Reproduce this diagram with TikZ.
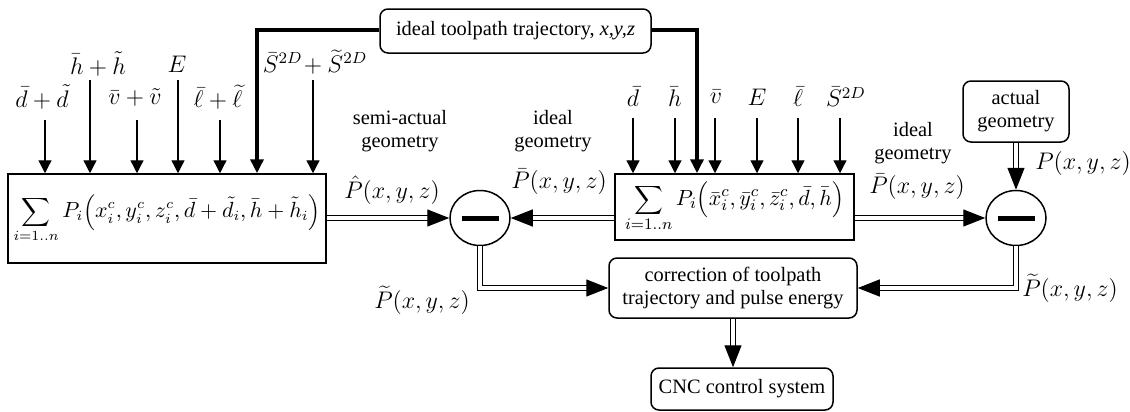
\documentclass[tikz,border=0pt]{standalone}
\usepackage{fontspec}
\setmainfont{Liberation Serif}
\usetikzlibrary{arrows.meta,shapes.geometric,calc}
\begin{document}
\begin{tikzpicture}[x=0.5pt,y=-0.5pt,
  font=\fontsize{10.2}{11.5}\selectfont,
  box/.style={draw,line width=0.75pt,inner sep=0pt,align=center},
  rbox/.style={box,rounded corners=4pt},
  circ/.style={draw,line width=0.75pt,ellipse,inner sep=0pt,minimum width=30pt,minimum height=27.5pt},
  lbl/.style={inner sep=1pt,align=center},
  mlbl/.style={inner sep=1pt,font=\fontsize{11.8}{13}\selectfont},
  arr/.style={line width=0.65pt,-{Triangle[length=6.5pt,width=6.5pt]}},
  dbl/.style={double,double distance=1.6pt,line width=0.6pt,-{Triangle[length=11pt,width=8.5pt]}},
  thk/.style={line width=2pt,-{Triangle[length=7pt,width=6.5pt]}}]
\useasboundingbox (0,0) rectangle (1130,412);

% main boxes
\node[box,minimum width=159pt,minimum height=44.5pt,font=\fontsize{10.6}{12}\selectfont] (lbox) at (167,218.5)
  {$\displaystyle\sum_{i=1..n}P_i\Bigl(x_i^c,y_i^c,z_i^c,\bar d+\tilde d_i,\bar h+\tilde h_i\Bigr)$};
\node[box,minimum width=119.5pt,minimum height=33pt,font=\fontsize{11}{12}\selectfont] (rbox) at (734.5,207)
  {$\displaystyle\sum_{i=1..n}P_i\Bigl(\bar x_i^c,\bar y_i^c,\bar z_i^c,\bar d,\bar h\Bigr)$};
\node[rbox,minimum width=135.5pt,minimum height=22pt] (top) at (515.5,31)
  {ideal toolpath trajectory, \textit{x,y,z}};
\node[rbox,minimum width=53pt,minimum height=30.5pt] (act) at (1016,111.5)
  {actual\\geometry};
\node[rbox,minimum width=124pt,minimum height=30pt] (corr) at (733,288)
  {correction of toolpath\\trajectory and pulse energy};
\node[rbox,minimum width=91pt,minimum height=21pt] (cnc) at (742,389)
  {CNC control system};

% comparators
\node[circ] (c1) at (480,218) {\rule[-1.25pt]{18.5pt}{2.5pt}};
\node[circ] (c2) at (1016,218) {\rule[-1.25pt]{18.5pt}{2.5pt}};

% labels above left box
\node[mlbl] (la) at (42,97) {$\bar d+\tilde d$};
\node[mlbl] (lb) at (98,64) {$\bar h+\tilde h$};
\node[mlbl] (lc) at (135,97) {$\bar v+\tilde v$};
\node[mlbl] (ld) at (177,64) {$E$};
\node[mlbl] (le) at (218,97) {$\bar\ell+\widetilde\ell$};
\node[mlbl] (lf) at (315,62) {$\bar S^{2D}\!+\widetilde S^{2D}$};

\coordinate (ia) at (45,120);
\coordinate (ib) at (90,80);
\coordinate (ic) at (137,120);
\coordinate (id) at (178,80);
\coordinate (ie) at (220,120);
\coordinate (if) at (313,80);
\foreach \p in {ia,ib,ic,id,ie,if}
  \draw[arr] (\p) -- (\p |- lbox.north);

% labels above right box
\node[mlbl] (ra) at (633,97) {$\bar d$};
\node[mlbl] (rb) at (675,97) {$\bar h$};
\node[mlbl] (rc) at (716,97) {$\bar v$};
\node[mlbl] (rd) at (757,97) {$E$};
\node[mlbl] (re) at (798,97) {$\bar\ell$};
\node[mlbl] (rf) at (846,97) {$\bar S^{2D}$};
\coordinate (ja) at (633,118);
\coordinate (jb) at (675,118);
\coordinate (jc) at (715,118);
\coordinate (jd) at (757,118);
\coordinate (je) at (798,118);
\coordinate (jf) at (840,118);
\foreach \p in {ja,jb,jc,jd,je,jf}
  \draw[arr] (\p) -- (\p |- rbox.north);

% thick trajectory lines
\coordinate (tl) at (257,30);
\coordinate (tr) at (697,30);
\draw[thk] (top.west |- tl) -- (tl) -- (tl |- lbox.north);
\draw[thk] (top.east |- tr) -- (tr) -- (tr |- rbox.north);

% double connectors
\draw[dbl] (lbox.east |- c1) -- (c1.west);
\draw[dbl] (rbox.west |- c1) -- (c1.east);
\draw[dbl] (rbox.east |- c2) -- (c2.west);
\draw[dbl] (act.south) -- (c2.north);
\draw[dbl] (c1.south) |- (corr.west);
\draw[dbl] (c2.south) |- (corr.east);
\draw[dbl] (corr.south) -- (corr.south |- cnc.north);

% connector labels
\node[lbl] (sg) at (400,131) {semi-actual\\geometry};
\node[lbl] (ig1) at (553,131) {ideal\\geometry};
\node[lbl] (ig2) at (913,143) {ideal\\geometry};
\node[mlbl] (p1) at (392,190) {$\hat P\bigl(x,y,z\bigr)$};
\node[mlbl] (p2) at (559,182) {$\bar P\bigl(x,y,z\bigr)$};
\node[mlbl] (p3) at (917,187) {$\bar P\bigl(x,y,z\bigr)$};
\node[mlbl] (p4) at (1083,163) {$P\bigl(x,y,z\bigr)$};
\node[mlbl] (p5) at (422,300) {$\widetilde P\bigl(x,y,z\bigr)$};
\node[mlbl] (p6) at (1070,288) {$\widetilde P\bigl(x,y,z\bigr)$};
\end{tikzpicture}
\end{document}
